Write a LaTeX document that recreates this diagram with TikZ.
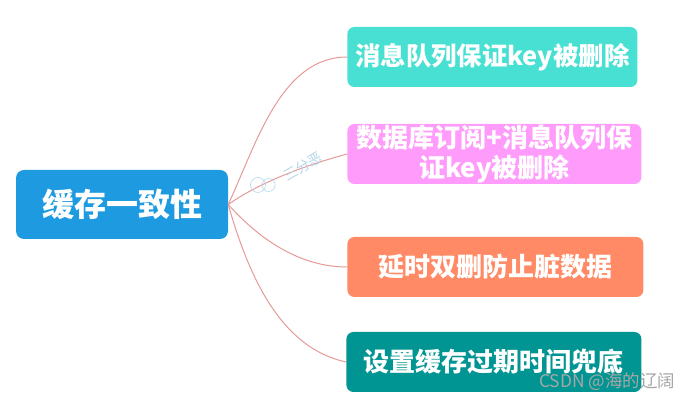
\documentclass[tikz,border=0pt]{standalone}
\usepackage{fontspec}
\setmainfont{Noto Sans CJK SC}
\usetikzlibrary{positioning}
\definecolor{rootblue}{HTML}{1E9BE0}
\definecolor{leafcyan}{HTML}{48E0D2}
\definecolor{leafpink}{HTML}{FF9CFB}
\definecolor{leaforange}{HTML}{FF8A65}
\definecolor{leafteal}{HTML}{009592}
\definecolor{linkred}{HTML}{E59A96}
\definecolor{markblue}{HTML}{B5D6EC}
\definecolor{csdngray}{HTML}{A6A6A6}

\begin{document}
\begin{tikzpicture}[
  x=1pt, y=1pt,
  root/.style={fill=rootblue, rounded corners=8pt, text=white, align=center, minimum width=212pt, minimum height=69pt, inner sep=0pt, font=\bfseries\fontsize{32}{38}\selectfont},
  leaf/.style={rounded corners=7pt, text=white, align=center, minimum height=60pt, inner sep=0pt, font=\bfseries\fontsize{26}{30}\selectfont},
  link/.style={draw=linkred, line width=1pt},
  stamp/.style={draw=markblue, line width=0.6pt, circle, minimum size=15pt, inner sep=0pt}
]
\useasboundingbox (0,0) rectangle (693,401);

\node[root] (cache) at (122,196.5) {缓存一致性};

\node[leaf, fill=leafcyan, minimum width=290pt, anchor=west, right=119pt of cache.east, yshift=147.5pt, font=\bfseries\fontsize{25.4}{30}\selectfont] (queue) {消息队列保证key被删除};
\node[leaf, fill=leafpink, minimum width=294pt, anchor=west, right=119pt of cache.east, yshift=50.5pt] (binlog) {数据库订阅+消息队列保\\证key被删除};
\node[leaf, fill=leaforange, minimum width=296pt, anchor=west, right=119pt of cache.east, yshift=-62.5pt] (delay) {延时双删防止脏数据};
\node[leaf, fill=leafteal, minimum width=295pt, anchor=west, right=118pt of cache.east, yshift=-157.5pt] (expire) {设置缓存过期时间兜底};

\draw[link] (cache.east) to[out=65, in=180, looseness=0.9] (queue.west);
\draw[link] (cache.east) to[out=35, in=195, looseness=0.8] (binlog.west);
\draw[link] (cache.east) to[out=-48, in=180, looseness=0.9] (delay.west);
\draw[link] (cache.east) to[out=-74, in=168, looseness=0.9] (expire.west);

\node[stamp] (faceleft) at (258,216) {};
\node[stamp, right=-4pt of faceleft, minimum size=13pt] (faceright) {};
\node[text=markblue, rotate=30, font=\fontsize{14}{16}\selectfont] (sign) at (303,234) {三分恶};

\node[text=csdngray, anchor=east, font=\fontsize{17.5}{20}\selectfont] (csdn) at (679,19) {CSDN @海的辽阔};

\end{tikzpicture}
\end{document}
